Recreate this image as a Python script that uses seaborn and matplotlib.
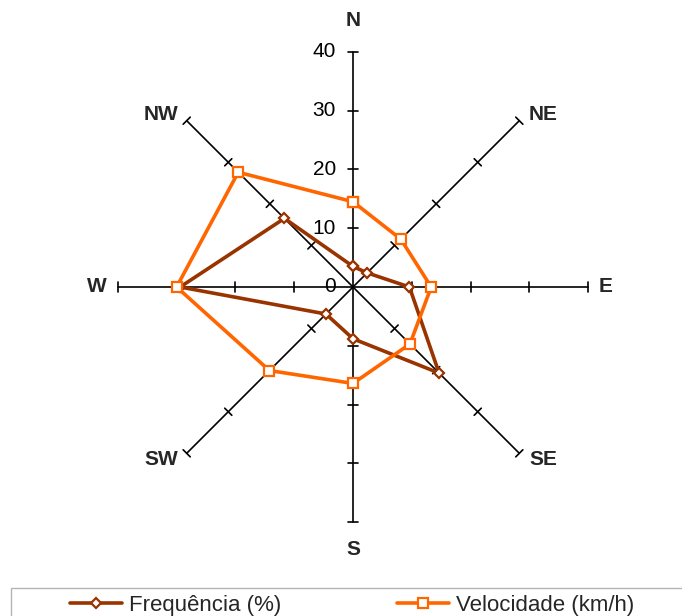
import numpy as np
import pandas as pd
import seaborn as sns
import matplotlib.pyplot as plt
from matplotlib.patches import Rectangle
from matplotlib.lines import Line2D

# Wind rose data (clockwise from north)
directions = ["N", "NE", "E", "SE", "S", "SW", "W", "NW"]
frequencia = [3.5, 3.4, 9.6, 20.7, 8.8, 6.5, 29.4, 16.5]      # %
velocidade = [14.5, 11.5, 13.3, 13.7, 16.4, 20.1, 30.0, 27.6]  # km/h
radial_ticks = [0, 10, 20, 30, 40]
series_names = ["Frequência (%)", "Velocidade (km/h)"]

BROWN = "#993300"
ORANGE = "#FF6600"

sns.set_theme(style="white")
plt.rcParams["font.family"] = ["Liberation Sans", "DejaVu Sans"]

W, H = 682, 616
fig = plt.figure(figsize=(W / 100, H / 100), dpi=100)
ax = fig.add_axes([0, 0, 1, 1])
ax.axis("off")

# data units: centre of the rose at pixel (353, 287), 5.88 px per unit
scale = 5.88
cx, cy = 353, 287
ax.set_xlim(-cx / scale, (W - cx) / scale)
ax.set_ylim(-(H - cy) / scale, cy / scale)

angles = np.deg2rad(90 - 45 * np.arange(len(directions)))
rmax = radial_ticks[-1]
tick_half = 0.85

# spokes with perpendicular tick marks
for a in angles:
    ux, uy = np.cos(a), np.sin(a)
    ax.plot([0, rmax * ux], [0, rmax * uy], color="black", lw=1.2, zorder=1)
    for r in radial_ticks[1:]:
        px, py = r * ux, r * uy
        ax.plot([px - tick_half * -uy, px + tick_half * -uy],
                [py - tick_half * ux, py + tick_half * ux],
                color="black", lw=1.2, zorder=1)

# radial value labels along the north spoke
for r in radial_ticks:
    ax.text(-2.9, r, str(r), ha="right", va="center", fontsize=15, color="black")

# direction labels
label_pos = {
    "N": (0.0, 45.3), "NE": (32.3, 29.3), "E": (43.0, 0.0), "SE": (32.3, -29.3),
    "S": (0.0, -44.7), "SW": (-32.6, -29.3), "W": (-43.6, 0.0), "NW": (-32.6, 29.3),
}
for d in directions:
    x, y = label_pos[d]
    ax.text(x, y, d, ha="center", va="center", fontsize=15, fontweight="bold")


def closed_frame(values):
    r = np.append(values, values[0])
    a = np.append(angles, angles[0])
    return pd.DataFrame({"x": r * np.cos(a), "y": r * np.sin(a)})


styles = [
    (frequencia, BROWN, "D", 5.2),
    (velocidade, ORANGE, "s", 7.5),
]
handles = []
for (vals, color, marker, ms), name in zip(styles, series_names):
    df = closed_frame(vals)
    sns.lineplot(data=df, x="x", y="y", sort=False, estimator=None, ax=ax,
                 color=color, lw=2.6, marker=marker, ms=ms,
                 markerfacecolor="white", markeredgecolor=color,
                 markeredgewidth=1.6, zorder=3)
    handles.append(Line2D([], [], color=color, lw=2.6, marker=marker, ms=ms,
                          markerfacecolor="white", markeredgecolor=color,
                          markeredgewidth=1.6, label=name))

# legend box
fig.patches.append(Rectangle((11 / W, -0.02), 1.0, 1 - 588 / H + 0.02,
                             transform=fig.transFigure, fill=False,
                             edgecolor="#b4b4b4", lw=1.0))
leg = fig.legend(handles=handles, loc="center left",
                 bbox_to_anchor=(70 / W, 1 - 605 / H), ncol=2, frameon=False,
                 fontsize=16, handlelength=2.35, handletextpad=0.3,
                 columnspacing=5.2, borderpad=0, borderaxespad=0)

fig.savefig("out.png", dpi=100)
